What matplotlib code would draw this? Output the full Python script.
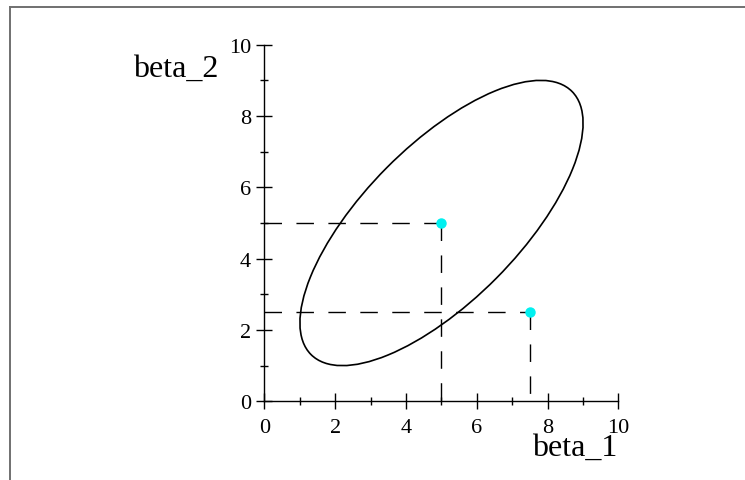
import numpy as np
import matplotlib
matplotlib.use("Agg")
import matplotlib.pyplot as plt
from matplotlib.patches import Ellipse
from matplotlib.lines import Line2D

# confidence ellipse (centre, full axes lengths, tilt)
ellipse_center = (5.0, 5.0)
ellipse_width = 10.43
ellipse_height = 4.38
ellipse_angle = 45.0

# the two marked points
point_x = [5.0, 7.5]
point_y = [5.0, 2.5]

major_ticks = [0, 2, 4, 6, 8, 10]
minor_ticks = [1, 3, 5, 7, 9]

plt.rcParams['font.family'] = ['Liberation Serif', 'DejaVu Serif']
plt.rcParams['lines.scale_dashes'] = False

fig = plt.figure(figsize=(7.45, 4.81), dpi=100)
ax = fig.add_axes([0.35503, 0.16362, 0.47517, 0.74137])

ell = Ellipse(ellipse_center, ellipse_width, ellipse_height, angle=ellipse_angle,
              fill=False, edgecolor='black', linewidth=1.2)
ax.add_patch(ell)

for px, py in zip(point_x, point_y):
    ax.plot([0, px], [py, py], color='black', linewidth=1.0, dashes=(12.6, 10.4))
    ax.plot([px, px], [py, 0], color='black', linewidth=1.0, dashes=(12.6, 10.4))

ax.plot(point_x, point_y, 'o', color='#00f0f0', markersize=6.5, zorder=5, clip_on=False)

ax.set_xlim(0, 10)
ax.set_ylim(0, 10)
for side in ['top', 'right']:
    ax.spines[side].set_visible(False)
for side in ['left', 'bottom']:
    ax.spines[side].set_linewidth(1.0)

ax.set_xticks(major_ticks)
ax.set_yticks(major_ticks)
ax.set_xticks(minor_ticks, minor=True)
ax.set_yticks(minor_ticks, minor=True)
ax.tick_params(which='major', direction='inout', length=11.5, width=1.0, labelsize=16)
ax.tick_params(which='minor', direction='inout', length=5.8, width=1.0)
ax.tick_params(axis='x', which='major', pad=6)
ax.tick_params(axis='y', which='major', pad=4)

fig.text(218 / 745, 1 - 77 / 481, 'beta_2', fontsize=23, ha='right', va='baseline')
fig.text(617 / 745, 1 - 456 / 481, 'beta_1', fontsize=23, ha='right', va='baseline')

# frame lines (top and left only)
fig.add_artist(Line2D([9.5 / 745, 1.0], [1 - 8 / 481, 1 - 8 / 481],
                      transform=fig.transFigure, color='#707070', linewidth=1.4))
fig.add_artist(Line2D([9.5 / 745, 9.5 / 745], [1 - 8 / 481, 0.0],
                      transform=fig.transFigure, color='#707070', linewidth=1.4))

fig.savefig('out.png', dpi=100)
